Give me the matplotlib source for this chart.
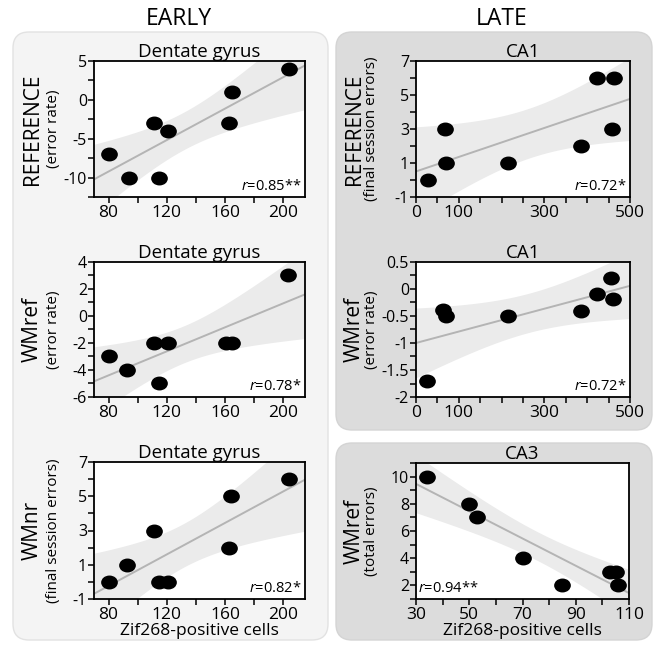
import numpy as np
import matplotlib
matplotlib.use("Agg")
import matplotlib.pyplot as plt
from matplotlib.patches import FancyBboxPatch
from matplotlib.path import Path
from matplotlib.ticker import FixedLocator, MultipleLocator

plt.rcParams['font.family'] = ['Open Sans', 'DejaVu Sans']
plt.rcParams['mathtext.fontset'] = 'custom'
plt.rcParams['mathtext.it'] = 'Open Sans:italic'
plt.rcParams['mathtext.rm'] = 'Open Sans'

# ---- data ----
ref_dg_x = [80, 94, 111, 115, 121, 163, 165, 204]
ref_dg_y = [-7, -10, -3, -10, -4, -3, 1, 4]
wmref_dg_x = [80, 93, 111, 115, 121, 161, 165, 203]
wmref_dg_y = [-3, -4, -2, -5, -2, -2, -2, 3]
wmnr_dg_x = [80, 93, 111, 115, 121, 163, 164, 204]
wmnr_dg_y = [0, 1, 3, 0, 0, 2, 5, 6]
ref_ca1_x = [28, 67, 70, 214, 386, 423, 462, 457]
ref_ca1_y = [0, 3, 1, 1, 2, 6, 6, 3]
wmref_ca1_x = [25, 63, 69, 214, 386, 422, 456, 461]
wmref_ca1_y = [-1.7, -0.38, -0.5, -0.5, -0.4, -0.1, 0.2, -0.18]
wmref_ca3_x = [34, 50, 53, 70, 85, 103, 105, 106]
wmref_ca3_y = [10, 8, 7, 4, 2, 3, 3, 2]

r_labels = ["0.85**", "0.72*", "0.78*", "0.72*", "0.82*", "0.94**"]
titles = ["Dentate gyrus", "CA1", "Dentate gyrus", "CA1", "Dentate gyrus", "CA3"]
ylab_main = ["REFERENCE", "REFERENCE", "WMref", "WMref", "WMnr", "WMref"]
ylab_sub = ["(error rate)", "(final session errors)", "(error rate)",
            "(error rate)", "(final session errors)", "(total errors)"]
xlabel = "Zif268-positive cells"

W, H = 661, 650
fig = plt.figure(figsize=(W / 100, H / 100), dpi=100)

# background panels (inches)
def panel(x, y, w, h, fc, ec):
    p = FancyBboxPatch((x, y), w, h, boxstyle="round,pad=0,rounding_size=0.16",
                       transform=fig.dpi_scale_trans, fc=fc, ec=ec, lw=1.0, zorder=0)
    fig.add_artist(p)

panel(0.13, 0.10, 3.15, 6.08, '#f4f4f4', '#e2e2e2')
panel(3.36, 2.20, 3.16, 3.98, '#dcdcdc', '#d4d4d4')
panel(3.36, 0.10, 3.16, 1.97, '#dcdcdc', '#d4d4d4')

fig.text(179 / W, 1 - 19 / H, "EARLY", ha='center', va='center', fontsize=16.5)
fig.text(502 / W, 1 - 19 / H, "LATE", ha='center', va='center', fontsize=16.5)

circ = Path.unit_circle()
ellipse = Path(circ.vertices * np.array([1.22, 1.0]), circ.codes)


def add_axes(l, t, r, b):
    return fig.add_axes([l / W, 1 - b / H, (r - l) / W, (b - t) / H])


def scatter_fit(ax, x, y, xlim):
    x = np.asarray(x, float)
    y = np.asarray(y, float)
    n = len(x)
    slope, icpt = np.polyfit(x, y, 1)
    resid = y - (slope * x + icpt)
    s = np.sqrt(np.sum(resid ** 2) / (n - 2))
    xs = np.linspace(xlim[0], xlim[1], 200)
    fit = slope * xs + icpt
    se = s * np.sqrt(1 / n + (xs - x.mean()) ** 2 / np.sum((x - x.mean()) ** 2))
    t = 2.447  # t(0.975, df=6)
    ax.fill_between(xs, fit - t * se, fit + t * se, color='#ebebeb', lw=0, zorder=1)
    ax.plot(xs, fit, color='#b4b4b4', lw=1.4, zorder=2)
    ax.plot(x, y, ls='none', marker=ellipse, ms=11, color='black', zorder=3)


specs = [
    # axes box px, x data, y data, xlim, xticks, xminor, ylim, yticks, yminor
    ((94, 61, 305, 197), ref_dg_x, ref_dg_y, (70, 215), [80, 120, 160, 200], 20,
     (-12.5, 5), [-10, -5, 0, 5], 2.5),
    ((416, 61, 630, 197), ref_ca1_x, ref_ca1_y, (0, 500), [0, 100, 300, 500], 50,
     (-1, 7), [-1, 1, 3, 5, 7], 1),
    ((94, 262, 305, 397), wmref_dg_x, wmref_dg_y, (70, 215), [80, 120, 160, 200], 20,
     (-6, 4), [-6, -4, -2, 0, 2, 4], 1),
    ((416, 262, 630, 397), wmref_ca1_x, wmref_ca1_y, (0, 500), [0, 100, 300, 500], 50,
     (-2, 0.5), [-2, -1.5, -1, -0.5, 0, 0.5], 0.25),
    ((94, 462, 305, 599), wmnr_dg_x, wmnr_dg_y, (70, 215), [80, 120, 160, 200], 20,
     (-1, 7), [-1, 1, 3, 5, 7], 1),
    ((416, 463, 629, 599), wmref_ca3_x, wmref_ca3_y, (30, 110), [30, 50, 70, 90, 110], 10,
     (1, 11), [2, 4, 6, 8, 10], 1),
]

for i, (box, x, y, xlim, xt, xm, ylim, yt, ym) in enumerate(specs):
    ax = add_axes(*box)
    ax.set_facecolor('white')
    scatter_fit(ax, x, y, xlim)
    ax.set_xlim(xlim)
    ax.set_ylim(ylim)
    ax.xaxis.set_major_locator(FixedLocator(xt))
    ax.xaxis.set_minor_locator(MultipleLocator(xm))
    ax.yaxis.set_major_locator(FixedLocator(yt))
    ax.yaxis.set_minor_locator(MultipleLocator(ym))
    ax.set_xticklabels([f"{v:g}" for v in xt])
    ax.set_yticklabels([f"{v:g}" for v in yt])
    ax.tick_params(which='both', direction='out', length=4, width=1.1, pad=2)
    ax.tick_params(axis='x', labelsize=12.5, pad=1.5)
    ax.tick_params(axis='y', labelsize=11.5, pad=1)
    for sp in ax.spines.values():
        sp.set_linewidth(1.3)
    ax.set_title(titles[i], fontsize=13.5, pad=2)
    if i == 5:
        ax.text(0.01, 0.02, r"$r$=" + r_labels[i], transform=ax.transAxes,
                ha='left', va='bottom', fontsize=10.5)
    else:
        ax.text(0.985, 0.02, r"$r$=" + r_labels[i], transform=ax.transAxes,
                ha='right', va='bottom', fontsize=10.5)
    l, t, r, b = box
    yc = 1 - (t + b) / 2 / H
    right_col = i % 2 == 1
    off_main = 62
    off_sub = 40 if not right_col else 45
    fig.text((l - off_main) / W, yc, ylab_main[i], rotation=90, ha='center',
             va='center', fontsize=15)
    fig.text((l - off_sub) / W, yc, ylab_sub[i], rotation=90, ha='center',
             va='center', fontsize=11)
    if i >= 4:
        ax.set_xlabel(xlabel, fontsize=12.5, labelpad=0)

fig.savefig("out.png", dpi=100)
